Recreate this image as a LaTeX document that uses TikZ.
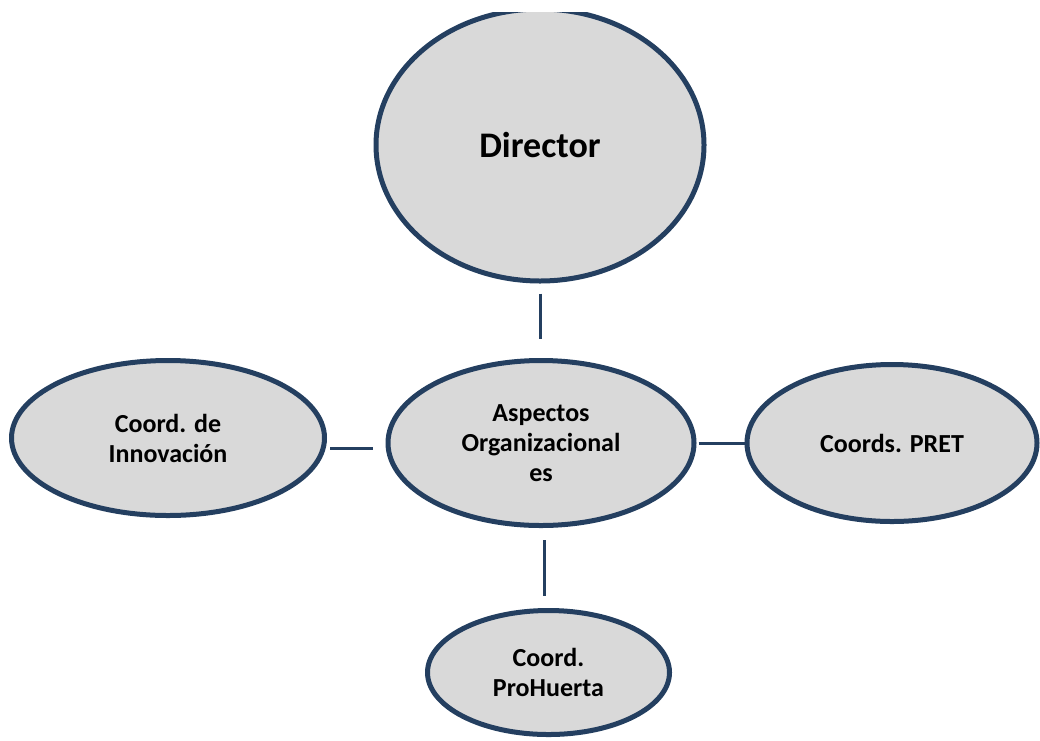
\documentclass[tikz,border=0pt]{standalone}
\usepackage{fontspec}
\setmainfont{Carlito}
\usetikzlibrary{shapes.geometric}
\definecolor{borde}{HTML}{243F60}
\definecolor{relleno}{HTML}{D9D9D9}
\begin{document}
\begin{tikzpicture}[x=1pt, y=-1pt, line join=round,
		caja/.style={ellipse, draw=borde, fill=relleno, line width=5pt, inner sep=0pt, align=center,
			font=\bfseries\fontsize{26}{30}\selectfont},
		enlace/.style={draw=borde, line width=3pt}]
				\useasboundingbox (0,0) rectangle (1040,740);
				\begin{scope}
				\clip (0,12) rectangle (1040,740);
				\node[caja, minimum width=328pt, minimum height=272pt, font=\bfseries\fontsize{36}{42}\selectfont] (dir) at (540,145) {Director};
				\node[caja, minimum width=306pt, minimum height=165pt] (asp) at (541,443) {Aspectos\\Organizacional\\es};
				\node[caja, minimum width=313pt, minimum height=155pt] (inno) at (168,438) {Coord. de\\Innovación};
				\node[caja, minimum width=290pt, minimum height=157pt] (pret) at (892,443) {Coords. PRET};
				\node[caja, minimum width=242pt, minimum height=124pt] (proh) at (548.5,672.5) {Coord.\\ProHuerta};
				\end{scope}
				\draw[enlace] ([yshift=-10pt]dir.south) -- ([xshift=-1pt,yshift=19pt]asp.north);
				\draw[enlace] ([xshift=3pt,yshift=-10pt]inno.east) -- ([xshift=-13pt,yshift=-5pt]asp.west);
				\draw[enlace] ([xshift=2pt]asp.east) -- (pret.west);
				\draw[enlace] ([xshift=3pt,yshift=-12pt]asp.south) -- ([xshift=-4.5pt,yshift=12pt]proh.north);
		\end{tikzpicture}
\end{document}
